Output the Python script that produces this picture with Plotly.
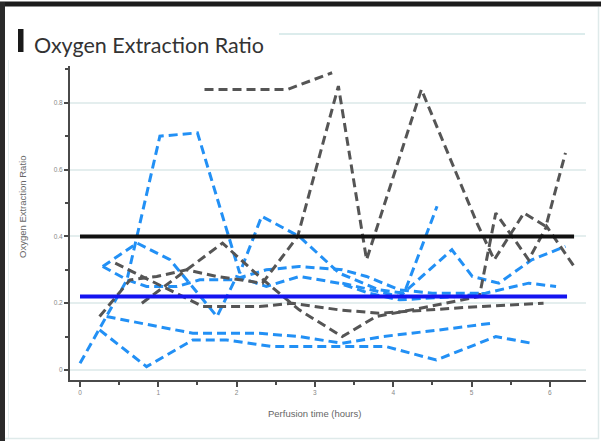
import plotly.graph_objects as go

# ---- data (hours, oxygen extraction ratio) ----
g1_t = [1.59, 2.65, 3.22]
g1_v = [0.84, 0.84, 0.89]
g2_t = [0.25, 0.64, 0.98, 1.36, 1.75, 2.33, 2.78, 3.30, 3.66, 4.36, 5.07, 5.29, 5.67, 5.95, 6.20]
g2_v = [0.16, 0.27, 0.28, 0.30, 0.28, 0.26, 0.40, 0.85, 0.33, 0.84, 0.44, 0.33, 0.47, 0.43, 0.65]
g3_t = [0.79, 1.82, 2.29, 2.80, 3.35, 3.78, 4.46, 5.10, 5.31, 5.73, 5.96, 6.31]
g3_v = [0.20, 0.38, 0.28, 0.18, 0.10, 0.16, 0.19, 0.22, 0.47, 0.33, 0.43, 0.31]
g4_t = [0.45, 0.80, 1.15, 1.57, 1.87, 2.29, 2.71, 3.31, 3.82, 4.46, 5.10, 5.92]
g4_v = [0.32, 0.28, 0.24, 0.19, 0.19, 0.19, 0.20, 0.18, 0.17, 0.18, 0.19, 0.20]

b1_t = [0.00, 0.60, 1.02, 1.50, 2.04, 2.32, 2.80, 3.31, 3.82, 4.14, 4.56]
b1_v = [0.02, 0.27, 0.70, 0.71, 0.29, 0.46, 0.40, 0.29, 0.24, 0.23, 0.49]
b2_t = [0.25, 0.85, 1.44, 1.87, 2.46, 2.80, 3.35, 3.91, 4.55, 5.31, 5.77]
b2_v = [0.12, 0.01, 0.09, 0.09, 0.07, 0.07, 0.07, 0.07, 0.03, 0.10, 0.08]
b3_t = [0.34, 1.44, 2.29, 2.80, 3.35, 3.86, 4.59, 5.26]
b3_v = [0.16, 0.11, 0.11, 0.10, 0.08, 0.10, 0.12, 0.14]
b4_t = [0.29, 0.60, 0.85, 1.24, 1.53, 1.95, 2.38, 2.80, 3.35, 3.66, 4.08, 4.50, 5.13]
b4_v = [0.31, 0.27, 0.25, 0.25, 0.27, 0.27, 0.30, 0.31, 0.30, 0.28, 0.24, 0.23, 0.23]
b5_t = [0.29, 0.73, 1.15, 1.75, 2.00, 2.38, 2.80, 3.31, 3.69, 4.08, 4.80, 5.18, 5.73, 6.08]
b5_v = [0.31, 0.38, 0.33, 0.16, 0.28, 0.25, 0.28, 0.26, 0.23, 0.21, 0.22, 0.23, 0.26, 0.25]
b6_t = [3.35, 4.08, 4.75, 5.01, 5.35, 5.77, 6.20]
b6_v = [0.26, 0.22, 0.36, 0.28, 0.26, 0.33, 0.37]

black_ref_t = [0.0, 6.31]
black_ref_v = [0.40, 0.40]
blue_ref_t = [0.0, 6.22]
blue_ref_v = [0.22, 0.22]

y_ticks = [0, 0.2, 0.4, 0.6, 0.8]
y_tick_text = ["0", "0.2", "0.4", "0.6", "0.8"]
x_ticks = [0, 1, 2, 3, 4, 5, 6]

title_text = "Oxygen Extraction Ratio"
y_title = "Oxygen Extraction Ratio"
x_title = "Perfusion time (hours)"

GRAY = "#555555"
BLUE = "#2290f5"
DASH = "9px,5px"

fig = go.Figure()

blue_series = [(b1_t, b1_v), (b2_t, b2_v), (b3_t, b3_v), (b4_t, b4_v), (b5_t, b5_v), (b6_t, b6_v)]
gray_series = [(g1_t, g1_v), (g2_t, g2_v), (g3_t, g3_v), (g4_t, g4_v)]

for t, v in blue_series:
    fig.add_trace(go.Scatter(x=t, y=v, mode="lines",
                             line=dict(color=BLUE, width=3, dash=DASH), hoverinfo="skip"))
for t, v in gray_series:
    fig.add_trace(go.Scatter(x=t, y=v, mode="lines",
                             line=dict(color=GRAY, width=3, dash=DASH), hoverinfo="skip"))

fig.add_trace(go.Scatter(x=blue_ref_t, y=blue_ref_v, mode="lines",
                         line=dict(color="#1414f0", width=4), hoverinfo="skip"))
fig.add_trace(go.Scatter(x=black_ref_t, y=black_ref_v, mode="lines",
                         line=dict(color="#111111", width=4), hoverinfo="skip"))

W, H = 601, 441
L, R, T, B = 70, 15, 66, 61
pw, ph = W - L - R, H - T - B


def px(x):
    return (x - L) / pw


def py(y):
    return (H - B - y) / ph


shapes = [
    # outer frame
    dict(type="rect", xref="paper", yref="paper", x0=px(0), x1=px(W), y0=py(1.5), y1=py(6.5),
         fillcolor="#1c1c1c", line=dict(width=0), layer="above"),
    dict(type="rect", xref="paper", yref="paper", x0=px(0), x1=px(5), y0=py(2), y1=py(H),
         fillcolor="#2a2a2a", line=dict(width=0), layer="above"),
    dict(type="line", xref="paper", yref="paper", x0=px(598.5), x1=px(598.5), y0=py(7), y1=py(439),
         line=dict(color="#dfeaea", width=1.5)),
    dict(type="line", xref="paper", yref="paper", x0=px(5), x1=px(599), y0=py(438.5), y1=py(438.5),
         line=dict(color="#dfeaea", width=1.5)),
    dict(type="line", xref="paper", yref="paper", x0=px(8.5), x1=px(8.5), y0=py(60), y1=py(438),
         line=dict(color="#e6f0f0", width=1)),
    # title bar and title rule
    dict(type="rect", xref="paper", yref="paper", x0=px(18), x1=px(23.5), y0=py(29), y1=py(52),
         fillcolor="#1a1a1a", line=dict(width=0)),
    dict(type="line", xref="paper", yref="paper", x0=px(279), x1=px(585), y0=py(34), y1=py(34),
         line=dict(color="#dcecec", width=2)),
]

annotations = [
    dict(text=title_text, xref="paper", yref="paper", x=px(32), y=py(45), xanchor="left",
         yanchor="middle", showarrow=False,
         font=dict(family="Lato, Open Sans, sans-serif", size=21.5, color="#333333")),
    dict(text=y_title, xref="paper", yref="paper", x=px(22), y=py(207), textangle=-90,
         xanchor="center", yanchor="middle", showarrow=False,
         font=dict(family="Liberation Sans, Arial, sans-serif", size=9.5, color="#666666")),
    dict(text=x_title, xref="paper", yref="paper", x=px(314), y=py(413),
         xanchor="center", yanchor="middle", showarrow=False,
         font=dict(family="Liberation Sans, Arial, sans-serif", size=9.5, color="#666666")),
]

fig.update_layout(
    width=W, height=H,
    margin=dict(l=L, r=R, t=T, b=B, pad=0),
    paper_bgcolor="white", plot_bgcolor="white",
    showlegend=False,
    shapes=shapes,
    annotations=annotations,
)

fig.update_xaxes(
    range=[(L - 80) / 78.3, (W - R - 80) / 78.3],
    tickvals=x_ticks, ticktext=[str(v) for v in x_ticks],
    showgrid=False, zeroline=False,
    showline=True, linecolor="#4a4a4a", linewidth=2,
    ticks="outside", ticklen=5, tickwidth=2, tickcolor="#4a4a4a",
    minor=dict(dtick=0.5, ticks="outside", ticklen=3, tickwidth=1.5, tickcolor="#4a4a4a"),
    tickfont=dict(family="Liberation Sans, Arial, sans-serif", size=6.5, color="#888888"),
)
fig.update_yaxes(
    range=[(370 - (H - B)) / 334, (370 - T) / 334],
    tickvals=y_ticks, ticktext=y_tick_text,
    showgrid=True, gridcolor="#e4eeee", gridwidth=2,
    zeroline=False,
    showline=True, linecolor="#4a4a4a", linewidth=2,
    ticks="outside", ticklen=4, tickwidth=2, tickcolor="#4a4a4a",
    minor=dict(dtick=0.1, ticks="outside", ticklen=3, tickwidth=1.5, tickcolor="#4a4a4a", showgrid=False),
    tickfont=dict(family="Liberation Sans, Arial, sans-serif", size=6.5, color="#888888"),
)

fig.write_html(
    "out.html",
    config={"displayModeBar": False},
    post_script="document.body.style.margin='0';document.body.style.padding='0';"
                "document.documentElement.style.overflow='hidden';",
)
